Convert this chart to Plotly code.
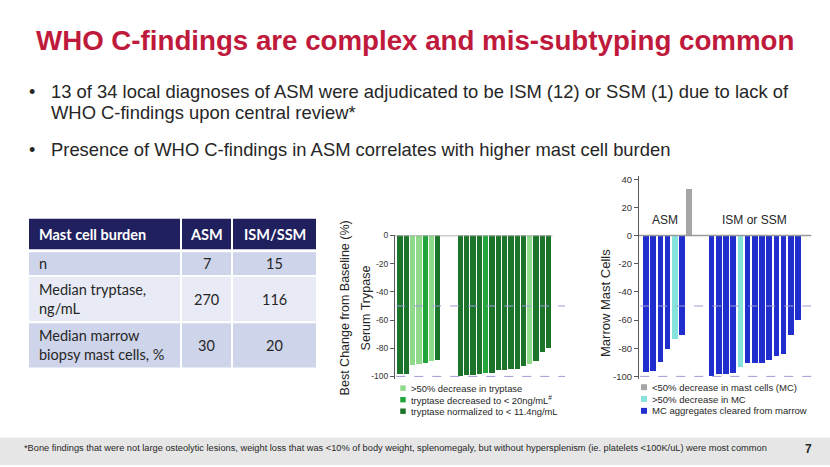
import plotly.graph_objects as go

W, H = 830, 467

# ---------------- data ----------------
title_text = "WHO C-findings are complex and mis-subtyping common"
bullets = [
    ["13 of 34 local diagnoses of ASM were adjudicated to be ISM (12) or SSM (1) due to lack of",
     "WHO C-findings upon central review*"],
    ["Presence of WHO C-findings in ASM correlates with higher mast cell burden"],
]
footnote = ("*Bone findings that were not large osteolytic lesions, weight loss that was <10% of body weight, "
            "splenomegaly, but without hypersplenism (ie. platelets <100K/uL) were most common")
page_no = "7"

table_header = ["Mast cell burden", "ASM", "ISM/SSM"]
table_rows = [
    ["n", "7", "15"],
    ["Median tryptase,<br>ng/mL", "270", "116"],
    ["Median marrow<br>biopsy mast cells, %", "30", "20"],
]

group_labels = ["ASM", "ISM or SSM"]

# Serum tryptase best change (%)
tryp_asm = [-98.5, -98.5, -92, -91.5, -91, -89.5, -88.5]
tryp_asm_cat = ["norm", "norm", "gt50", "gt50", "lt20", "gt50", "norm"]
tryp_ism = [-100, -99.5, -99.3, -98.8, -98.1, -97.9, -95.8, -95.5, -95.3, -95.1, -93.2, -91.8, -89.2, -83.3, -80.2]
tryp_ism_cat = ["norm", "norm", "norm", "norm", "lt20", "norm", "norm", "norm", "norm", "norm", "norm", "gt50", "norm", "norm", "norm"]
tryp_legend = [">50% decrease in tryptase", "tryptase decreased to < 20ng/mL<sup>#</sup>", "tryptase normalized to < 11.4ng/mL"]
tryp_legend_cat = ["gt50", "lt20", "norm"]
tryp_colors = {"gt50": "#8ED98A", "lt20": "#22A53A", "norm": "#1B7429"}
tryp_ticks = [0, -20, -40, -60, -80, -100]

# Marrow mast cells best change (%)
mc_asm = [-97.4, -96.7, -90.4, -80.6, -74.0, -70.6, 33]
mc_asm_cat = ["clear", "clear", "clear", "clear", "gt50", "clear", "lt50"]
mc_ism = [-100, -99, -98.6, -98.1, -93.9, -90.7, -90.7, -90.7, -88.8, -85.7, -84.1, -70.8, -60.5]
mc_ism_cat = ["clear", "clear", "clear", "clear", "gt50", "clear", "clear", "clear", "clear", "clear", "clear", "clear", "clear"]
mc_legend = ["<50% decrease in mast cells (MC)", ">50% decrease in MC", "MC aggregates cleared from marrow"]
mc_legend_cat = ["lt50", "gt50", "clear"]
mc_colors = {"lt50": "#A6A6A6", "gt50": "#86E3DC", "clear": "#1F2ECC"}
mc_ticks = [40, 20, 0, -20, -40, -60, -80, -100]

ref_lines = [-50, -100]

# ---------------- helpers ----------------
def px(x):
    return x / W

def py(y):
    return 1 - y / H

FONT = "Liberation Sans, Arial, sans-serif"
TFONT = "Lato, Carlito, Calibri, sans-serif"

fig = go.Figure()

# ---------------- bar charts ----------------
def positions(n1, n2, gap):
    return list(range(n1)) + [n1 - 1 + gap + i for i in range(n2)]

tx = positions(len(tryp_asm), len(tryp_ism), 3.6)
ty = tryp_asm + tryp_ism
tc = [tryp_colors[c] for c in tryp_asm_cat + tryp_ism_cat]
fig.add_trace(go.Bar(x=tx, y=ty, marker=dict(color=tc, line_width=0), width=0.84,
                     xaxis="x", yaxis="y", showlegend=False, hoverinfo="skip"))

mx = positions(len(mc_asm), len(mc_ism), 3.1)
my = mc_asm + mc_ism
mcol = [mc_colors[c] for c in mc_asm_cat + mc_ism_cat]
fig.add_trace(go.Bar(x=mx, y=my, marker=dict(color=mcol, line_width=0), width=0.78,
                     xaxis="x2", yaxis="y2", showlegend=False, hoverinfo="skip"))

axis_common = dict(showgrid=False, zeroline=False, showline=True, linecolor="#595959", linewidth=1,
                   ticks="outside", ticklen=4, tickcolor="#595959")

fig.update_layout(
    xaxis=dict(domain=[px(395), px(565)], range=[-0.8, 26.2], visible=False, fixedrange=True),
    yaxis=dict(domain=[py(379.9), py(234)], range=[-102, 0], tickvals=tryp_ticks,
               ticktext=[str(v) for v in tryp_ticks],
               tickfont=dict(family=FONT, size=8.5, color="#333333"), anchor="x", **axis_common),
    xaxis2=dict(domain=[px(639), px(811.6)], range=[-0.97, 23], visible=False, fixedrange=True),
    yaxis2=dict(domain=[py(379.9), py(174.1)], range=[-102, 42], tickvals=mc_ticks,
                ticktext=[str(v) for v in mc_ticks],
                tickfont=dict(family=FONT, size=9.5, color="#333333"), anchor="x2", **axis_common),
)

shapes = []
annotations = []

# zero lines and reference dashed lines
shapes.append(dict(type="line", xref="x", yref="y", x0=-0.8, x1=tx[-1] + 0.6, y0=0, y1=0,
                   line=dict(color="#9A9A9A", width=1.5)))
shapes.append(dict(type="line", xref="x2", yref="y2", x0=-0.97, x1=23, y0=0, y1=0,
                   line=dict(color="#9A9A9A", width=1.5)))
for v in ref_lines:
    shapes.append(dict(type="line", xref="x", yref="y", x0=-0.6, x1=26.2, y0=v, y1=v,
                       line=dict(color="#9C9CD8", width=1, dash="dash")))
    shapes.append(dict(type="line", xref="x2", yref="y2", x0=-0.8, x1=23, y0=v, y1=v,
                       line=dict(color="#9C9CD8", width=1, dash="dash")))

# group labels
t_groups = [sum(tx[:7]) / 7, sum(tx[7:]) / len(tx[7:])]
for lab, xc in zip(group_labels, t_groups):
    annotations.append(dict(x=xc, y=2, xref="x", yref="y", text=lab, showarrow=False, yanchor="bottom",
                            font=dict(family=FONT, size=11.5, color="#262626")))
m_groups = [2.7, sum(mx[7:]) / len(mx[7:])]
for lab, xc in zip(group_labels, m_groups):
    annotations.append(dict(x=xc, y=5, xref="x2", yref="y2", text=lab, showarrow=False, yanchor="bottom",
                            font=dict(family=FONT, size=12, color="#262626")))

# axis titles
annotations.append(dict(x=px(345), y=py(308), xref="paper", yref="paper", text="Best Change from Baseline (%)",
                        textangle=-90, showarrow=False, font=dict(family=FONT, size=12.5, color="#262626")))
annotations.append(dict(x=px(366), y=py(308), xref="paper", yref="paper", text="Serum Trypase",
                        textangle=-90, showarrow=False, font=dict(family=FONT, size=12.5, color="#262626")))
annotations.append(dict(x=px(615), y=py(303), xref="paper", yref="paper", text="Marrow Mast Cells",
                        textangle=-90, showarrow=False, font=dict(family=FONT, size=13, color="#262626")))

# legends
def add_legend(labels, cats, colors, x0, y0, dy, size, fsize):
    for i, (lab, c) in enumerate(zip(labels, cats)):
        yc = y0 + i * dy
        shapes.append(dict(type="rect", xref="paper", yref="paper",
                           x0=px(x0 - size / 2), x1=px(x0 + size / 2),
                           y0=py(yc + size / 2), y1=py(yc - size / 2),
                           fillcolor=colors[c], line_width=0))
        annotations.append(dict(x=px(x0 + size / 2 + 3), y=py(yc), xref="paper", yref="paper", text=lab,
                                showarrow=False, xanchor="left", yanchor="middle",
                                font=dict(family=FONT, size=fsize, color="#262626")))

add_legend(tryp_legend, tryp_legend_cat, tryp_colors, 403, 389, 11.7, 5.5, 9.4)
add_legend(mc_legend, mc_legend_cat, mc_colors, 644, 388, 12, 6, 9.5)

# ---------------- table ----------------
col_x = [(29, 180), (182, 231), (233, 316)]
row_y = [(217, 248), (251, 274), (276, 321), (323, 368)]
row_fill = ["#21205E", "#CED4EA", "#E8EBF5", "#CED4EA"]
all_rows = [table_header] + table_rows
for r, (rowvals, (ya, yb)) in enumerate(zip(all_rows, row_y)):
    for c, (val, (xa, xb)) in enumerate(zip(rowvals, col_x)):
        shapes.append(dict(type="rect", xref="paper", yref="paper", x0=px(xa), x1=px(xb),
                           y0=py(yb), y1=py(ya), fillcolor=row_fill[r], line_width=0, layer="below"))
        header = r == 0
        txt = f"<b>{val}</b>" if header else val
        if c == 0:
            annotations.append(dict(x=px(xa + 8), y=py((ya + yb) / 2), xref="paper", yref="paper",
                                    text=txt, showarrow=False, xanchor="left", yanchor="middle", align="left",
                                    font=dict(family=TFONT, size=14.5,
                                              color="white" if header else "#262626")))
        else:
            annotations.append(dict(x=px((xa + xb) / 2), y=py((ya + yb) / 2), xref="paper", yref="paper",
                                    text=txt, showarrow=False, xanchor="center", yanchor="middle",
                                    font=dict(family=TFONT, size=14.5,
                                              color="white" if header else "#262626")))

# ---------------- title, bullets, footer ----------------
annotations.append(dict(x=px(415), y=py(36), xref="paper", yref="paper", text=f"<b>{title_text}</b>",
                        showarrow=False, xanchor="center", yanchor="middle",
                        font=dict(family=FONT, size=27.7, color="#BF1A3C")))
bullet_y = [88, 147]
for lines, yb in zip(bullets, bullet_y):
    annotations.append(dict(x=px(27), y=py(yb), xref="paper", yref="paper", text="•", showarrow=False,
                            xanchor="left", yanchor="middle", font=dict(family=FONT, size=18, color="#262626")))
    for k, line in enumerate(lines):
        annotations.append(dict(x=px(49), y=py(yb + 21.5 * k), xref="paper", yref="paper", text=line,
                                showarrow=False, xanchor="left", yanchor="middle", align="left",
                                font=dict(family=FONT, size=18.4, color="#262626")))

shapes.append(dict(type="rect", xref="paper", yref="paper", x0=0, x1=1, y0=0, y1=py(439),
                   fillcolor="#E6E6E6", line_width=0, layer="below"))
annotations.append(dict(x=px(22), y=py(450), xref="paper", yref="paper", text=footnote, showarrow=False,
                        xanchor="left", yanchor="middle",
                        font=dict(family=FONT, size=9.25, color="#262626")))
annotations.append(dict(x=px(808), y=py(451), xref="paper", yref="paper", text=f"<b>{page_no}</b>",
                        showarrow=False, xanchor="center", yanchor="middle",
                        font=dict(family=FONT, size=12, color="#262626")))

fig.update_layout(width=W, height=H, margin=dict(l=0, r=0, t=0, b=0), paper_bgcolor="white",
                  plot_bgcolor="rgba(0,0,0,0)", shapes=shapes, annotations=annotations,
                  bargap=0, showlegend=False)

fig.write_html("out.html", config={"displayModeBar": False},
               post_script="document.body.style.margin='0';document.body.style.overflow='hidden';")
